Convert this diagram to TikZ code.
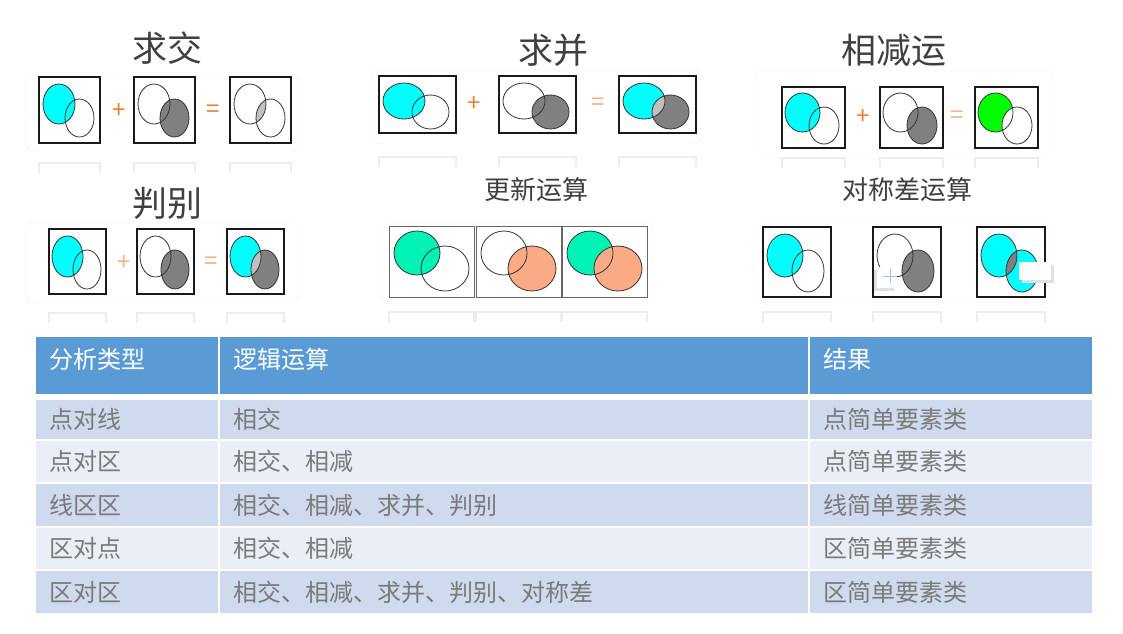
\documentclass[tikz,border=0pt]{standalone}
\usepackage{fontspec}
\setmainfont{Noto Sans CJK SC}
\usetikzlibrary{positioning}
\definecolor{TitleGray}{HTML}{404040}
\definecolor{OpOrange}{HTML}{ED7D31}
\definecolor{OpPale}{HTML}{F4B183}
\definecolor{VennCyan}{HTML}{00FFFF}
\definecolor{VennGray}{HTML}{808080}
\definecolor{VennLight}{HTML}{C0C0C0}
\definecolor{VennGreen}{HTML}{00FF00}
\definecolor{VennMint}{HTML}{00F2B5}
\definecolor{VennSalmon}{HTML}{FAAA85}
\definecolor{HeadBlue}{HTML}{5B9BD5}
\definecolor{RowDark}{HTML}{CFDAEE}
\definecolor{RowLight}{HTML}{E9EEF7}
\definecolor{CellText}{HTML}{7A7A7A}
\definecolor{CrossBlue}{HTML}{9DC3E6}

% one framed Venn picture: name, x, y, fill A, fill B, fill A and B, box style
\newcommand{\vennbox}[7]{%
  \node[vbox, #7, minimum width=\bw, minimum height=\bh] (#1) at (#2,#3) {};
  \begin{scope}[shift={(#1.north west)}]
    \fill[#4] \vA;
    \fill[#5] \vB;
    \begin{scope} \clip \vA; \fill[#6] \vB; \end{scope}
    \draw[vline] \vA;
    \draw[vline] \vB;
  \end{scope}
  \draw[reflect] ([yshift=-\rgap pt]#1.south west) ++(0,10) -- ++(0,-10) -- ++(\bw,0) -- ++(0,10);
}

\begin{document}
\begin{tikzpicture}[
  x=1pt, y=-1pt,
  title/.style  = {font=\fontsize{35}{40}\selectfont, text=TitleGray},
  subtitle/.style = {font=\fontsize{26}{30}\selectfont, text=TitleGray},
  op/.style     = {font=\fontsize{24}{28}\selectfont, inner sep=0pt},
  vbox/.style   = {draw=black!90, line width=1.4pt, fill=white, anchor=north west,
                   inner sep=0pt, outer sep=0pt},
  thinbox/.style = {draw=black!60, line width=0.8pt},
  vline/.style  = {draw=black!80, line width=0.8pt},
  reflect/.style = {draw=black!7, line width=1.3pt},
  panel/.style  = {draw=black!5, rounded corners=8pt},
  cell/.style   = {anchor=north west, inner xsep=13pt, inner ysep=0pt, outer sep=0pt,
                   align=left, text height=21pt, text depth=3pt,
                   font=\fontsize{24}{28}\selectfont, text=CellText}
]
  \useasboundingbox (0,0) rectangle (1123,633);
  \fill[white] (0,0) rectangle (1123,633);

  % panel frames
  \draw[panel] (26,73) rectangle (299,152);
  \draw[panel] (371,70) rectangle (702,144);
  \draw[panel] (755,70) rectangle (1053,153);
  \draw[panel] (26,222) rectangle (299,303);
  \draw[panel] (381,222) rectangle (653,303);
  \draw[panel] (755,223) rectangle (1053,303);

  % intersection
  \node[title] (t-inter) at (167,48) {求交};
  \def\bw{61}\def\bh{66}\def\rgap{20}
  \def\vA{(20,27) ellipse [x radius=16, y radius=20]}
  \def\vB{(40.5,41) ellipse [x radius=14.5, y radius=19]}
  \vennbox{i1}{39}{77}{VennCyan}{white}{VennCyan}{}
  \vennbox{i2}{134}{77}{white}{VennGray}{VennGray}{}
  \vennbox{i3}{230}{77}{white}{white}{VennLight}{}
  \node[op, text=OpOrange] (i-plus) at (119,111) {+};
  \node[op, text=OpOrange] (i-eq) at (213,111) {=};

  % union
  \node[title] (t-union) at (553,50) {求并};
  \def\bw{77}\def\bh{57}\def\rgap{24}
  \def\vA{(25,25) ellipse [x radius=21, y radius=18]}
  \def\vB{(51.5,36) ellipse [x radius=18.5, y radius=17]}
  \vennbox{u1}{379}{76}{VennCyan}{white}{VennCyan}{}
  \vennbox{u2}{499}{76}{white}{VennGray}{VennGray}{}
  \vennbox{u3}{619}{76}{VennCyan}{VennGray}{VennLight}{}
  \node[op, text=OpOrange] (u-plus) at (474,104) {+};
  \node[op, text=OpPale] (u-eq) at (598,104) {=};

  % difference
  \node[title] (t-diff) at (894,50) {相减运};
  \def\bw{63}\def\bh{61}\def\rgap{10}
  \def\vA{(20.5,25.5) ellipse [x radius=17.5, y radius=19.5]}
  \def\vB{(42,38.5) ellipse [x radius=15, y radius=18.5]}
  \vennbox{d1}{782}{87}{VennCyan}{white}{VennCyan}{}
  \vennbox{d2}{880}{87}{white}{VennGray}{VennGray}{}
  \vennbox{d3}{975}{87}{VennGreen}{white}{white}{}
  \node[op, text=OpOrange] (d-plus) at (863,117) {+};
  \node[op, text=OpPale] (d-eq) at (957,117) {=};

  % identity
  \node[title] (t-ident) at (167,203) {判别};
  \def\bw{57}\def\bh{65}\def\rgap{19}
  \def\vA{(18.5,27.5) ellipse [x radius=15.5, y radius=20.5]}
  \def\vB{(38,40.5) ellipse [x radius=14, y radius=19.5]}
  \vennbox{j1}{49}{229}{VennCyan}{white}{VennCyan}{}
  \vennbox{j2}{137}{229}{white}{VennGray}{VennGray}{}
  \vennbox{j3}{227}{229}{VennCyan}{VennGray}{VennLight}{}
  \node[op, text=OpPale] (j-plus) at (124,263) {+};
  \node[op, text=OpPale] (j-eq) at (211,263) {=};

  % update
  \node[subtitle] (t-update) at (536,190) {更新运算};
  \def\bw{85}\def\bh{71}\def\rgap{15}
  \def\vA{(28,27) ellipse [x radius=23, y radius=22]}
  \def\vB{(56,42.5) ellipse [x radius=24, y radius=22.5]}
  \vennbox{n1}{389}{226}{VennMint}{white}{VennMint}{thinbox}
  \vennbox{n2}{476}{226}{white}{VennSalmon}{VennSalmon}{thinbox}
  \vennbox{n3}{562}{226}{VennMint}{VennSalmon}{VennSalmon}{thinbox}

  % symmetric difference
  \node[subtitle] (t-symm) at (907,190) {对称差运算};
  \def\bw{68}\def\bh{70}\def\rgap{15}
  \def\vA{(22,28.5) ellipse [x radius=18, y radius=21.5]}
  \def\vB{(45,44) ellipse [x radius=16, y radius=21]}
  \vennbox{s1}{763}{227}{VennCyan}{white}{VennCyan}{}
  \vennbox{s2}{873}{227}{white}{VennGray}{VennGray}{}
  \vennbox{s3}{977}{227}{VennCyan}{VennCyan}{VennGray}{line width=2pt}
  \fill[black!12] (874,270) rectangle (894,291);
  \fill[white] (877,267) rectangle (897,288);
  \draw[CrossBlue, line width=0.6pt] (883,276) -- (897,276) (890,269) -- (890,283);
  \fill[black!12] (1022,265) rectangle (1054,283);
  \fill[white] (1019,262) rectangle (1051,280);

  % table header
  \node[cell, fill=HeadBlue, text=white, minimum height=57, text depth=15pt, text width=156pt]
    (h-kind) at (36,337) {分析类型};
  \node[cell, fill=HeadBlue, text=white, minimum height=57, text depth=15pt, text width=562pt]
    (h-ops) at (220,337) {逻辑运算};
  \node[cell, fill=HeadBlue, text=white, minimum height=57, text depth=15pt, text width=256pt]
    (h-res) at (810,337) {结果};

  % table rows
  \foreach \ytop/\hgt/\shade/\kind/\ops/\res [count=\r] in {
      400/39/RowDark/点对线/相交/点简单要素类,
      441/41/RowLight/点对区/相交、相减/点简单要素类,
      484/42/RowDark/线区区/相交、相减、求并、判别/线简单要素类,
      528/41/RowLight/区对点/相交、相减/区简单要素类,
      571/42/RowDark/区对区/相交、相减、求并、判别、对称差/区简单要素类} {
    \node[cell, fill=\shade, minimum height=\hgt, text width=156pt] (r\r-kind) at (36,\ytop) {\kind};
    \node[cell, fill=\shade, minimum height=\hgt, text width=562pt] (r\r-ops) at (220,\ytop) {\ops};
    \node[cell, fill=\shade, minimum height=\hgt, text width=256pt] (r\r-res) at (810,\ytop) {\res};
  }
\end{tikzpicture}
\end{document}
